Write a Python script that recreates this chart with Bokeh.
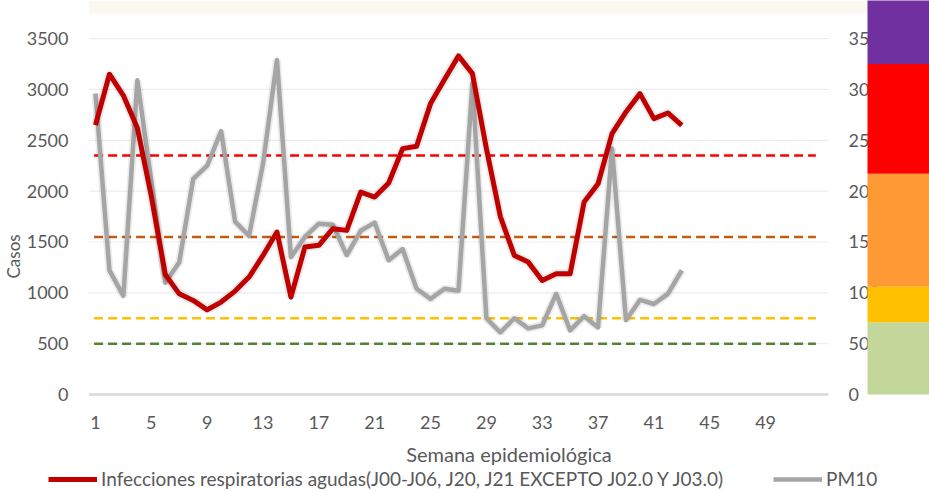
from bokeh.plotting import figure
from bokeh.layouts import column
from bokeh.models import (Range1d, FixedTicker, Legend, LegendItem, BoxAnnotation, Title)
from bokeh.core.properties import value
from bokeh.embed import file_html
from bokeh.resources import INLINE

# ---- data ----
weeks = list(range(1, 44))
iras = [2650, 3150, 2940, 2620, 1950, 1180, 990, 925, 833, 909, 1017, 1155, 1368,
        1598, 958, 1450, 1467, 1631, 1614, 1991, 1942, 2080, 2418, 2441, 2861, 3097,
        3330, 3156, 2420, 1750, 1368, 1302, 1122, 1188, 1188, 1893, 2073, 2566, 2779,
        2959, 2713, 2769, 2648]
pm10 = [296, 122, 97, 309, 210, 110, 130, 212, 225, 259, 170, 156, 227, 329, 135,
        155, 168, 167, 137, 161, 169, 132, 143, 104, 94, 104, 102, 306, 75, 61, 75,
        65, 68, 99, 63, 77, 66, 242, 73, 93, 89, 99, 122]
x_ticks = [1, 5, 9, 13, 17, 21, 25, 29, 33, 37, 41, 45, 49]
y_ticks = [0, 500, 1000, 1500, 2000, 2500, 3000, 3500]
pm_ticks = [0, 50, 100, 150, 200, 250, 300, 350]
pm_tick_labels = [str(v) for v in pm_ticks]
thresholds = [50, 75, 155, 235]
threshold_colors = ["#548235", "#FFC000", "#C55A11", "#FF0000"]
band_bottoms = [0, 71, 106, 217, 325]
band_tops = [71, 106, 217, 325, 420]
band_colors = ["#C4D79B", "#FFC000", "#FF9933", "#FF0000", "#7030A0"]
series_names = ["Infecciones respiratorias agudas(J00-J06, J20, J21 EXCEPTO J02.0 Y J03.0)", "PM10"]
series_colors = ["#C00000", "#A5A5A5"]
series_widths = [5, 4.5]

FONT = "Lato"
TXT = "#595959"

p = figure(frame_width=841, frame_height=406, x_range=Range1d(0.5, 60.74),
           y_range=Range1d(-118, 3875), output_backend="svg", toolbar_location=None,
           min_border_left=88, min_border_right=0, min_border_top=0, min_border_bottom=48)
p.frame_align = False
p.extra_y_ranges = {"pm": Range1d(-11.8, 387.5)}
p.outline_line_color = None
p.background_fill_color = "white"
p.border_fill_color = "white"
p.grid.visible = False

# faint backdrop strip at the top
p.add_layout(BoxAnnotation(bottom=3745, fill_color="#F6F0DF", fill_alpha=0.45,
                           line_color=None, level="underlay"))

# axes
xa = p.xaxis[0]
xa.ticker = FixedTicker(ticks=x_ticks)
xa.axis_line_color = None
xa.major_tick_line_color = None
xa.minor_tick_line_color = None
xa.major_tick_out = 0
xa.minor_tick_out = 0
xa.major_label_standoff = 9
xa.major_label_text_font = FONT
xa.major_label_text_font_size = "18px"
xa.major_label_text_color = TXT
xa.axis_label = "Semana epidemiológica"
xa.axis_label_text_font = FONT
xa.axis_label_text_font_size = "20px"
xa.axis_label_text_font_style = "normal"
xa.axis_label_text_color = TXT
xa.axis_label_standoff = 10

ya = p.yaxis[0]
ya.ticker = FixedTicker(ticks=y_ticks)
ya.axis_line_color = None
ya.major_tick_line_color = None
ya.minor_tick_line_color = None
ya.major_tick_out = 0
ya.minor_tick_out = 0
ya.major_label_standoff = 20
ya.major_label_text_font = FONT
ya.major_label_text_font_size = "18px"
ya.major_label_text_color = TXT

# y axis title
p.add_layout(Title(text="Casos", align="left", offset=128, standoff=0,
                   text_font=FONT, text_font_size="17px", text_font_style="normal",
                   text_color=TXT), "left")

# gridlines (limited to the category span)
x_lo, x_hi = 0.5, 53.5
p.segment(x0=[x_lo] * (len(y_ticks) - 1), x1=[x_hi] * (len(y_ticks) - 1),
          y0=y_ticks[1:], y1=y_ticks[1:], line_color="#EDEDED", line_width=1.2)
p.segment(x0=[x_lo], x1=[x_hi], y0=[y_ticks[0]], y1=[y_ticks[0]],
          line_color="#D9D9D9", line_width=2.5)

# threshold dashed lines
for t, c in zip(thresholds, threshold_colors):
    p.line(x=[0.9, 52.6], y=[t, t], y_range_name="pm", line_color=c,
           line_width=2.5, line_dash="9 5")

# series with soft shadow
p.line(weeks, pm10, y_range_name="pm", line_color="#000000", line_alpha=0.08, line_width=8)
p.line(weeks, pm10, y_range_name="pm", line_color=series_colors[1],
       line_width=series_widths[1], line_join="round")
p.line(weeks, iras, line_color="#000000", line_alpha=0.08, line_width=9)
p.line(weeks, iras, line_color=series_colors[0], line_width=series_widths[0],
       line_join="round")

# secondary-axis labels and colour bands
p.text(x=[54.94] * len(pm_ticks), y=pm_ticks, text=pm_tick_labels, y_range_name="pm",
       text_font=value(FONT), text_font_size="18px", text_color=TXT,
       text_align="left", text_baseline="middle")
p.quad(left=[56.3] * len(band_colors), right=[61.5] * len(band_colors),
       bottom=band_bottoms, top=band_tops, fill_color=band_colors, line_color=None,
       y_range_name="pm")

# legend strip below the chart (series drawn off-range, only their keys show)
lg = figure(width=929, height=24, output_backend="svg", toolbar_location=None,
            min_border=0, x_axis_type=None, y_axis_type=None,
            x_range=Range1d(-2, -1), y_range=Range1d(-2, -1))
lg.frame_align = False
lg.outline_line_color = None
lg.grid.visible = False
items = []
for name, c, w, ys in zip(series_names, series_colors, series_widths, [iras, pm10]):
    r = lg.line(x=weeks, y=ys, line_color=c, line_width=w)
    items.append(LegendItem(label=name, renderers=[r]))
legend = Legend(items=items, orientation="horizontal", location=(48, 2),
                glyph_width=49, glyph_height=16, label_standoff=4, spacing=50,
                padding=0, margin=0, border_line_color=None, background_fill_alpha=0,
                label_text_font=FONT, label_text_font_size="19px", label_text_color=TXT)
lg.add_layout(legend, "center")

open("out.html", "w").write(file_html(column(p, lg, spacing=0), INLINE))
